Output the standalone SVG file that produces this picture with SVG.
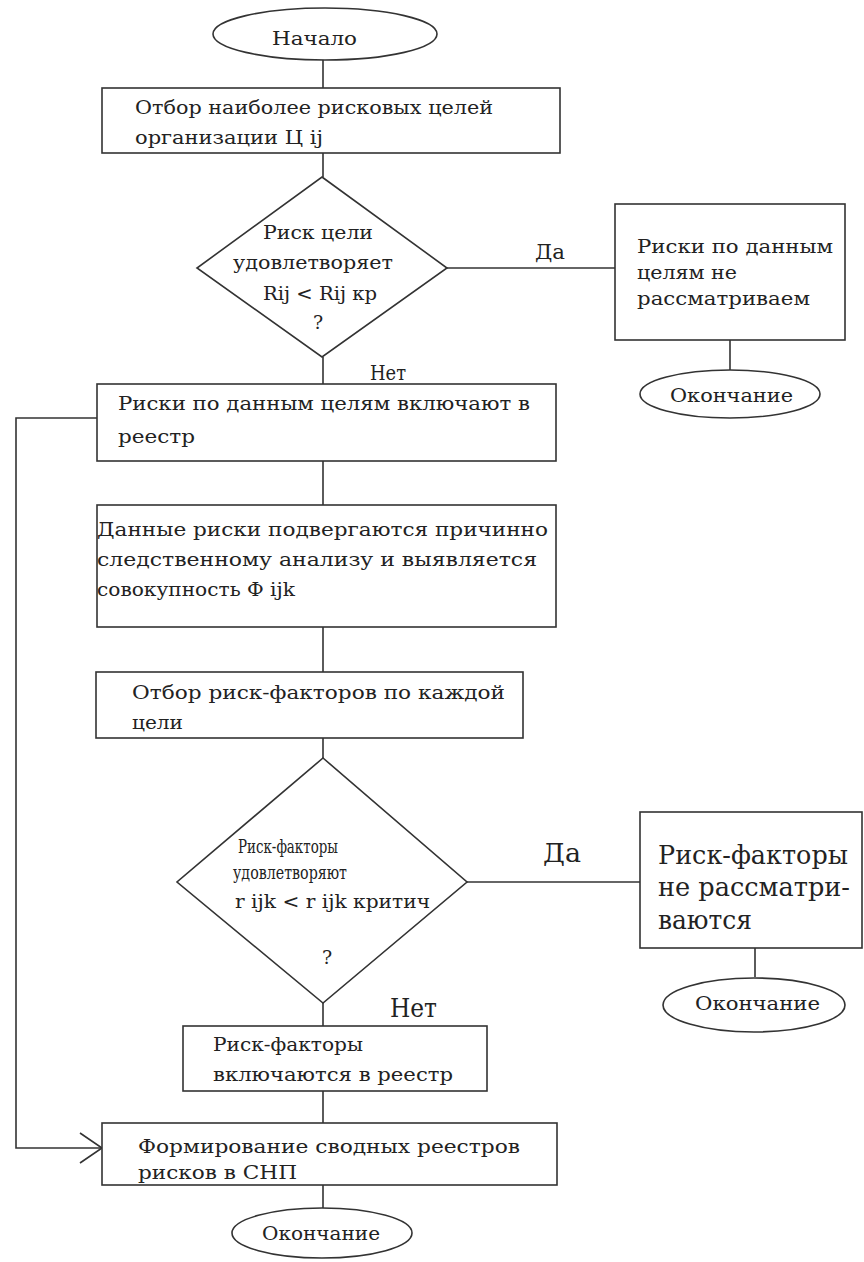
<svg xmlns="http://www.w3.org/2000/svg" width="864" height="1262" viewBox="0 0 864 1262">
<style>
.s{fill:#fff;stroke:#333;stroke-width:1.6}
.c{fill:none;stroke:#333;stroke-width:1.6}
text{font-family:"DejaVu Serif","Liberation Serif","Times New Roman",serif;font-size:19px;fill:#222}
.big{font-size:26px}
.lab{font-size:20px}
</style>
<rect width="864" height="1262" fill="#fff"/>
<g id="connectors">
<line class="c" x1="323" y1="60" x2="323" y2="88"/>
<line class="c" x1="323" y1="153" x2="323" y2="177"/>
<line class="c" x1="447" y1="268" x2="615" y2="268"/>
<line class="c" x1="730" y1="340" x2="730" y2="370"/>
<line class="c" x1="323" y1="357" x2="323" y2="384"/>
<line class="c" x1="323" y1="461" x2="323" y2="505"/>
<line class="c" x1="323" y1="627" x2="323" y2="672"/>
<line class="c" x1="323" y1="738" x2="323" y2="758"/>
<line class="c" x1="467" y1="882" x2="640" y2="882"/>
<line class="c" x1="755" y1="948" x2="755" y2="977"/>
<line class="c" x1="323" y1="1003" x2="323" y2="1026"/>
<line class="c" x1="323" y1="1091" x2="323" y2="1123"/>
<line class="c" x1="323" y1="1185" x2="323" y2="1208"/>
<polyline class="c" points="97,418 16,418 16,1148 102,1148"/>
<polyline class="c" points="80,1133 102,1148 80,1163"/>
<text class="lab" x="535" y="259" textLength="30" lengthAdjust="spacingAndGlyphs">Да</text>
<text class="lab" x="370" y="380" textLength="36" lengthAdjust="spacingAndGlyphs">Нет</text>
<text class="big" x="543" y="862" font-size="24" textLength="38" lengthAdjust="spacingAndGlyphs">Да</text>
<text class="big" x="390" y="1017" font-size="24" textLength="47" lengthAdjust="spacingAndGlyphs">Нет</text>
</g>
<g id="start">
<ellipse class="s" cx="325" cy="34" rx="112" ry="26"/>
<text x="272" y="45" textLength="85" lengthAdjust="spacingAndGlyphs">Начало</text>
</g>
<g id="box1">
<rect class="s" x="102" y="88" width="458" height="65"/>
<text x="135" y="114" textLength="358" lengthAdjust="spacingAndGlyphs">Отбор наиболее рисковых целей</text>
<text x="135" y="144" textLength="188" lengthAdjust="spacingAndGlyphs">организации Ц ij</text>
</g>
<g id="decision1">
<polygon class="s" points="322,177 447,268 322,357 197,268"/>
<text x="263" y="239" textLength="110" lengthAdjust="spacingAndGlyphs">Риск цели</text>
<text x="233" y="269" textLength="160" lengthAdjust="spacingAndGlyphs">удовлетворяет</text>
<text x="263" y="300" textLength="114" lengthAdjust="spacingAndGlyphs">Rij &lt; Rij кр</text>
<text x="318" y="329" text-anchor="middle">?</text>
</g>
<g id="skip1">
<rect class="s" x="615" y="204" width="230" height="136"/>
<text x="637" y="253" textLength="196" lengthAdjust="spacingAndGlyphs">Риски по данным</text>
<text x="637" y="279" textLength="100" lengthAdjust="spacingAndGlyphs">целям не</text>
<text x="637" y="305" textLength="173" lengthAdjust="spacingAndGlyphs">рассматриваем</text>
</g>
<g id="end1">
<ellipse class="s" cx="730" cy="394" rx="90" ry="24"/>
<text x="670" y="402" textLength="123" lengthAdjust="spacingAndGlyphs">Окончание</text>
</g>
<g id="box3">
<rect class="s" x="97" y="384" width="459" height="77"/>
<text x="118" y="410" textLength="412" lengthAdjust="spacingAndGlyphs">Риски по данным целям включают в</text>
<text x="118" y="443" textLength="77" lengthAdjust="spacingAndGlyphs">реестр</text>
</g>
<g id="box4">
<rect class="s" x="97" y="505" width="459" height="122"/>
<text x="97" y="536" textLength="451" lengthAdjust="spacingAndGlyphs">Данные риски подвергаются причинно</text>
<text x="97" y="566" textLength="440" lengthAdjust="spacingAndGlyphs">следственному анализу и выявляется</text>
<text x="97" y="596" textLength="198" lengthAdjust="spacingAndGlyphs">совокупность Ф ijk</text>
</g>
<g id="box5">
<rect class="s" x="96" y="672" width="427" height="66"/>
<text x="132" y="699" textLength="373" lengthAdjust="spacingAndGlyphs">Отбор риск-факторов по каждой</text>
<text x="132" y="729" textLength="51" lengthAdjust="spacingAndGlyphs">цели</text>
</g>
<g id="decision2">
<polygon class="s" points="323,758 467,882 323,1003 177,882"/>
<text x="238" y="853" font-size="15" textLength="100" lengthAdjust="spacingAndGlyphs">Риск-факторы</text>
<text x="233" y="879" font-size="15" textLength="114" lengthAdjust="spacingAndGlyphs">удовлетворяют</text>
<text x="235" y="908" font-size="15" textLength="195" lengthAdjust="spacingAndGlyphs">r ijk &lt; r ijk критич</text>
<text x="327" y="964" text-anchor="middle" font-size="22">?</text>
</g>
<g id="skip2">
<rect class="s" x="640" y="812" width="222" height="136"/>
<text class="big" x="658" y="864" textLength="190" lengthAdjust="spacingAndGlyphs">Риск-факторы</text>
<text class="big" x="658" y="896" textLength="192" lengthAdjust="spacingAndGlyphs">не рассматри-</text>
<text class="big" x="658" y="929" textLength="94" lengthAdjust="spacingAndGlyphs">ваются</text>
</g>
<g id="end2">
<ellipse class="s" cx="754" cy="1005" rx="91" ry="27"/>
<text x="695" y="1010" textLength="125" lengthAdjust="spacingAndGlyphs">Окончание</text>
</g>
<g id="box6">
<rect class="s" x="183" y="1026" width="304" height="65"/>
<text x="213" y="1051" textLength="150" lengthAdjust="spacingAndGlyphs">Риск-факторы</text>
<text x="213" y="1081" textLength="240" lengthAdjust="spacingAndGlyphs">включаются в реестр</text>
</g>
<g id="box7">
<rect class="s" x="102" y="1123" width="455" height="62"/>
<text x="138" y="1153" textLength="382" lengthAdjust="spacingAndGlyphs">Формирование сводных реестров</text>
<text x="138" y="1179" textLength="159" lengthAdjust="spacingAndGlyphs">рисков в СНП</text>
</g>
<g id="end3">
<ellipse class="s" cx="322" cy="1233" rx="90" ry="25"/>
<text x="262" y="1240" textLength="118" lengthAdjust="spacingAndGlyphs">Окончание</text>
</g>
</svg>
